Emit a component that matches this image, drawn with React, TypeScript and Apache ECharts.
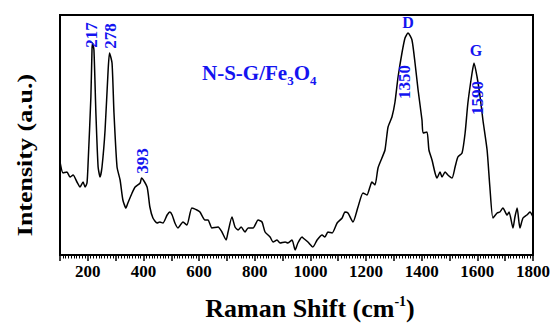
import React, { useEffect, useRef } from "react";
import * as echarts from "echarts";

// Raman shift (cm^-1) and intensity (a.u.)
const shift = [
  100, 111, 125, 136, 147, 161, 172, 183, 190, 197, 201, 211, 215, 217, 222, 229, 237, 244, 251, 262,
  273, 278, 287, 294, 305, 316, 326, 337, 344, 359, 370, 388, 393, 413, 423, 434, 449, 459, 470, 485,
  495, 503, 513, 524, 542, 556, 574, 592, 603, 621, 632, 646, 668, 682, 697, 704, 718, 729, 740, 751,
  765, 776, 794, 812, 826, 837, 855, 866, 880, 891, 909, 919, 934, 945, 955, 970, 974, 991, 1009, 1024,
  1042, 1052, 1063, 1078, 1096, 1114, 1124, 1135, 1153, 1171, 1189, 1203, 1214, 1221, 1232, 1243, 1257, 1268, 1279, 1293,
  1304, 1315, 1329, 1340, 1351, 1365, 1376, 1387, 1401, 1405, 1419, 1426, 1437, 1448, 1455, 1466, 1473, 1484, 1494, 1509,
  1520, 1530, 1545, 1556, 1566, 1581, 1588, 1599, 1610, 1620, 1635, 1645, 1656, 1671, 1681, 1692, 1707, 1714, 1728, 1735,
  1743, 1753, 1764, 1778, 1789, 1800,
];
const intensity = [
  93, 82, 83, 78, 80, 73, 68, 73, 68, 72, 92, 158, 205, 212, 205, 142, 88, 78, 88, 125,
  185, 202, 192, 142, 88, 75, 55, 47, 52, 62, 68, 72, 77, 68, 48, 37, 32, 33, 32, 40,
  43, 40, 32, 27, 33, 30, 47, 45, 43, 35, 35, 27, 28, 23, 15, 23, 38, 28, 25, 28,
  23, 27, 27, 35, 33, 23, 18, 13, 15, 12, 13, 12, 15, 5, 12, 18, 17, 13, 8, 15,
  20, 18, 23, 22, 32, 37, 43, 42, 33, 48, 62, 60, 68, 73, 70, 87, 97, 105, 128, 138,
  153, 178, 202, 217, 222, 215, 192, 165, 135, 122, 123, 105, 95, 82, 77, 83, 78, 83, 80, 77,
  88, 98, 102, 122, 152, 182, 192, 178, 158, 135, 105, 68, 37, 42, 43, 47, 40, 43, 27, 38,
  47, 27, 37, 40, 43, 38,
];
const tickLabels = [200, 400, 600, 800, 1000, 1200, 1400, 1600, 1800];

const FONT = "'Liberation Serif', 'Times New Roman', serif";
const BLUE = "#1414f0";

export default function App() {
  const ref = useRef<HTMLDivElement>(null);
  useEffect(() => {
    if (!ref.current) return;
    const chart = echarts.init(ref.current, undefined, { renderer: "svg" });
    const data = shift.map((s, i) => [s, intensity[i]]);
    const blueText = (text: string, x: number, y: number, rot: number, size = 17) => ({
      type: "text",
      x,
      y,
      rotation: rot,
      style: {
        text,
        fill: BLUE,
        font: `bold ${size}px ${FONT}`,
        align: "center",
        verticalAlign: "middle",
      },
      z: 10,
    });
    chart.setOption({
      animation: false,
      grid: {
        left: 60,
        right: 22,
        top: 15,
        bottom: 71,
        show: true,
        borderColor: "#000",
        borderWidth: 2,
        backgroundColor: "transparent",
      },
      xAxis: {
        type: "value",
        min: 100,
        max: 1800,
        interval: 100,
        axisLine: { show: true, onZero: false, lineStyle: { color: "#000", width: 2 } },
        axisTick: { show: true, inside: false, length: 6, lineStyle: { color: "#000", width: 1.5 } },
        minorTick: { show: true, splitNumber: 10, length: 3.5, lineStyle: { color: "#000", width: 1 } },
        axisLabel: {
          formatter: (v: number) => (tickLabels.indexOf(v) >= 0 ? String(v) : ""),
          showMinLabel: false,
          showMaxLabel: true,
          color: "#000",
          fontFamily: FONT,
          fontWeight: "bold",
          fontSize: 17,
          margin: 8,
        },
        splitLine: { show: false },
      },
      yAxis: {
        type: "value",
        min: 0,
        max: 240,
        axisLine: { show: false },
        axisTick: { show: false },
        axisLabel: { show: false },
        splitLine: { show: false },
      },
      series: [
        {
          type: "line",
          data,
          showSymbol: false,
          smooth: 0.2,
          lineStyle: { color: "#000", width: 1.5 },
        },
      ],
      graphic: [
        blueText("217", 91, 35, Math.PI / 2),
        blueText("278", 110, 36, Math.PI / 2),
        blueText("393", 142, 161, Math.PI / 2),
        blueText("1350", 404, 82, Math.PI / 2),
        blueText("1590", 477, 98, Math.PI / 2),
        blueText("D", 408, 22, 0, 16),
        blueText("G", 476, 50, 0, 16),
        {
          type: "text",
          x: 202,
          y: 73,
          style: {
            text: "{a|N-S-G/Fe}{s|3}{a|O}{s|4}",
            fill: BLUE,
            align: "left",
            verticalAlign: "middle",
            rich: {
              a: { font: `bold 21px ${FONT}`, fill: BLUE, lineHeight: 24 },
              s: { font: `bold 13px ${FONT}`, fill: BLUE, padding: [14, 0, 0, 0] },
            },
          },
        },
        {
          type: "text",
          x: 25,
          y: 155,
          rotation: Math.PI / 2,
          scaleX: 1.3,
          scaleY: 1,
          style: {
            text: "Intensity (a.u.)",
            fill: "#000",
            font: `bold 20px ${FONT}`,
            align: "center",
            verticalAlign: "middle",
          },
        },
        {
          type: "text",
          x: 310,
          y: 308,
          style: {
            text: "{a|Raman Shift (cm}{s|-1}{a|)}",
            fill: "#000",
            align: "center",
            verticalAlign: "middle",
            rich: {
              a: { font: `bold 26px ${FONT}`, fill: "#000", lineHeight: 30 },
              s: { font: `bold 14px ${FONT}`, fill: "#000", padding: [0, 0, 14, 0] },
            },
          },
        },
      ],
    });
    return () => chart.dispose();
  }, []);
  return (
    <div
      ref={ref}
      style={{ position: "absolute", left: 0, top: 0, width: 555, height: 326, background: "#fff" }}
    />
  );
}
